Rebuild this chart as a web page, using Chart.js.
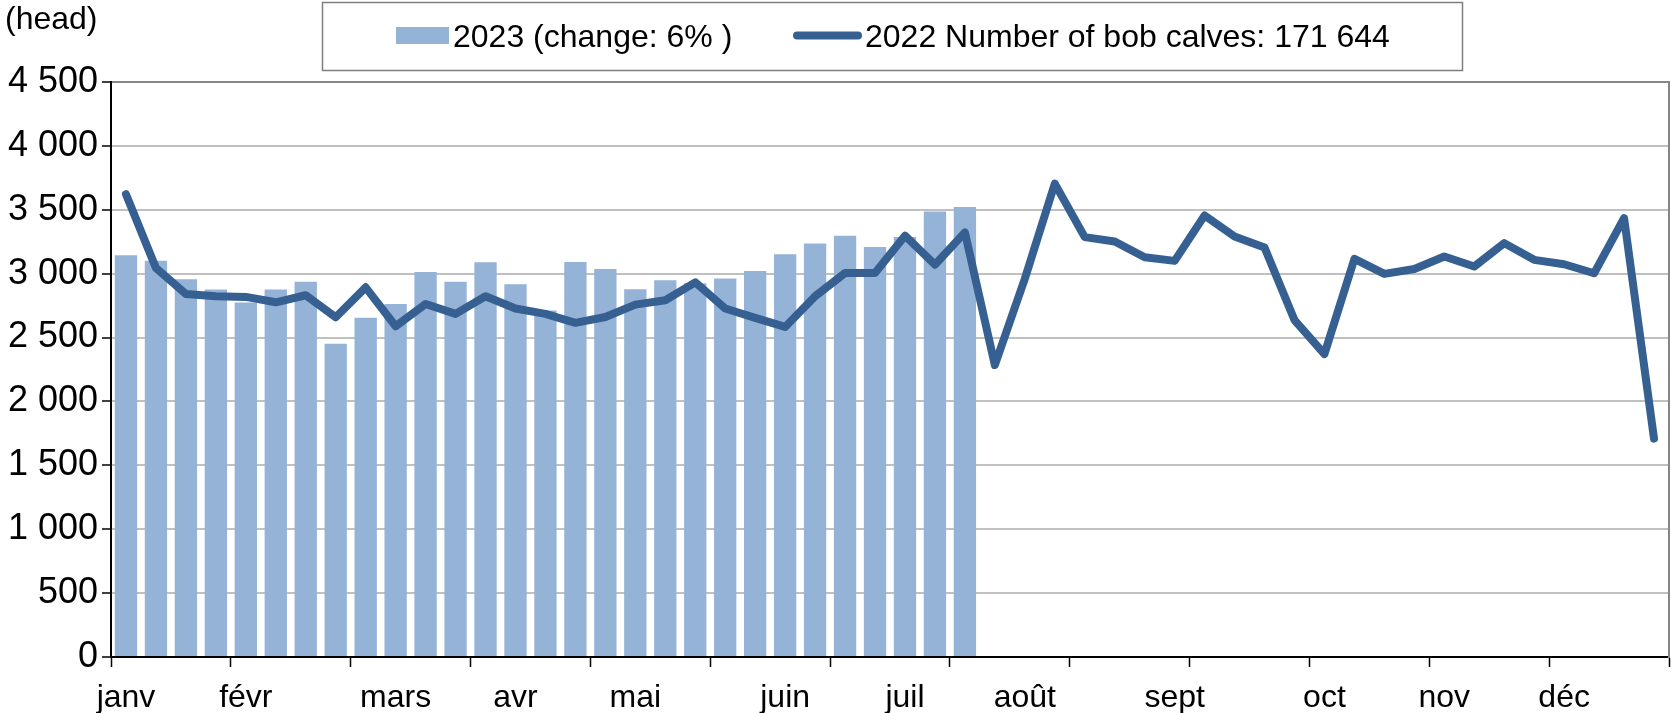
<!DOCTYPE html>
<html>
<head>
<meta charset="utf-8">
<script src="https://cdn.jsdelivr.net/npm/chart.js@4.4.0/dist/chart.umd.min.js"></script>
<style>
html,body{margin:0;padding:0;background:#ffffff;}
#wrap{width:1671px;height:713px;position:relative;}
</style>
</head>
<body>
<div id="wrap"><canvas id="c" width="1671" height="713"></canvas></div>
<script>
// ---- Data ----
const weekCount = 52;
const monthNames = ['janv','févr','mars','avr','mai','juin','juil','août','sept','oct','nov','déc'];
const monthStartWeek = [0,4,9,13,17,22,26,30,35,40,44,48];
const values2023 = [3145,3102,2957,2876,2775,2876,2936,2452,2655,2762,3014,2936,3090,2918,2712,
                    3091,3036,2879,2948,2925,2962,3021,3151,3237,3297,3208,3286,3487,3521];
const values2022 = [3622,3044,2841,2823,2818,2776,2831,2659,2893,2589,2763,2685,2823,2727,2685,
                    2615,2661,2758,2792,2932,2727,2654,2583,2823,3005,3005,3297,3070,3323,2285,
                    2960,3705,3286,3252,3129,3100,3456,3291,3205,2637,2371,3116,2998,3037,3134,
                    3056,3239,3108,3074,3003,3435,1709];
const label2023 = '2023 (change: 6% )';
const label2022 = '2022 Number of bob calves: 171 644';
const yUnitLabel = '(head)';
const yMin = 0, yMax = 4500, yStep = 500;

// ---- Build category labels ----
const weekLabels = [];
for (let i = 0; i < weekCount; i++) {
  const m = monthStartWeek.indexOf(i);
  weekLabels.push(m >= 0 ? monthNames[m] : '');
}

const FONT = '"Liberation Sans", Arial, sans-serif';
const barColor = '#95b3d7';
const lineColor = '#376092';

function fmt(v) { return String(v).replace(/\B(?=(\d{3})+(?!\d))/g, ' '); }

const decorations = {
  id: 'decorations',
  afterDraw(chart) {
    const ctx = chart.ctx;
    ctx.save();
    ctx.fillStyle = '#000';
    ctx.font = '32px ' + FONT;
    ctx.textBaseline = 'alphabetic';
    ctx.textAlign = 'left';
    ctx.fillText(yUnitLabel, 5, 29);

    // legend box
    ctx.strokeStyle = '#7f7f7f';
    ctx.lineWidth = 1.5;
    ctx.strokeRect(322.5, 2.5, 1140, 68);

    const ds = chart.data.datasets;
    // bar item
    ctx.fillStyle = ds[0].backgroundColor;
    ctx.fillRect(396, 27, 53, 17);
    ctx.fillStyle = '#000';
    ctx.font = '32px ' + FONT;
    ctx.fillText(ds[0].label, 453, 47);
    // line item
    ctx.strokeStyle = ds[1].borderColor;
    ctx.lineWidth = 8;
    ctx.lineCap = 'round';
    ctx.beginPath();
    ctx.moveTo(797, 35.5);
    ctx.lineTo(858, 35.5);
    ctx.stroke();
    ctx.fillText(ds[1].label, 865, 47);
    ctx.restore();
  }
};

new Chart(document.getElementById('c'), {
  type: 'bar',
  data: {
    labels: weekLabels,
    datasets: [
      {
        type: 'bar',
        label: label2023,
        data: values2023,
        backgroundColor: barColor,
        borderWidth: 0,
        barPercentage: 0.745,
        categoryPercentage: 1.0,
        order: 2
      },
      {
        type: 'line',
        label: label2022,
        data: values2022,
        borderColor: lineColor,
        backgroundColor: lineColor,
        borderWidth: 8,
        pointRadius: 0,
        tension: 0,
        borderCapStyle: 'round',
        borderJoinStyle: 'round',
        order: 1
      }
    ]
  },
  options: {
    responsive: false,
    animation: false,
    devicePixelRatio: 1,
    layout: { padding: { top: 82, left: 0, right: 0, bottom: 0 } },
    plugins: {
      legend: { display: false },
      tooltip: { enabled: false },
      title: { display: false }
    },
    scales: {
      x: {
        offset: true,
        afterFit(scale) { scale.height = 56; },
        grid: {
          offset: true,
          drawOnChartArea: false,
          drawTicks: true,
          tickLength: 10,
          tickWidth: 1.5,
          tickColor: (c) => (c.index === undefined || c.index % 4 === 0) ? '#000' : 'rgba(0,0,0,0)'
        },
        border: { display: true, color: '#000', width: 2 },
        ticks: {
          autoSkip: false,
          maxRotation: 0,
          minRotation: 0,
          padding: 12,
          color: '#000',
          font: { family: FONT, size: 32 }
        }
      },
      y: {
        min: yMin,
        max: yMax,
        afterFit(scale) { scale.width = 111; },
        grid: {
          color: (c) => (c.tick && c.tick.value === yMax) ? '#868686' : '#c0c0c0',
          lineWidth: 2,
          tickLength: 9,
          tickColor: '#000',
          tickWidth: 1.5
        },
        border: { display: true, color: '#000', width: 2 },
        ticks: {
          stepSize: yStep,
          padding: 4,
          color: '#000',
          font: { family: FONT, size: 36 },
          callback: (v) => fmt(v)
        }
      },
      y2: {
        position: 'right',
        min: yMin,
        max: yMax,
        afterFit(scale) { scale.width = 2; },
        grid: { display: false, drawOnChartArea: false },
        border: { display: true, color: '#868686', width: 2 },
        ticks: { display: false }
      }
    }
  },
  plugins: [decorations]
});
</script>
</body>
</html>
